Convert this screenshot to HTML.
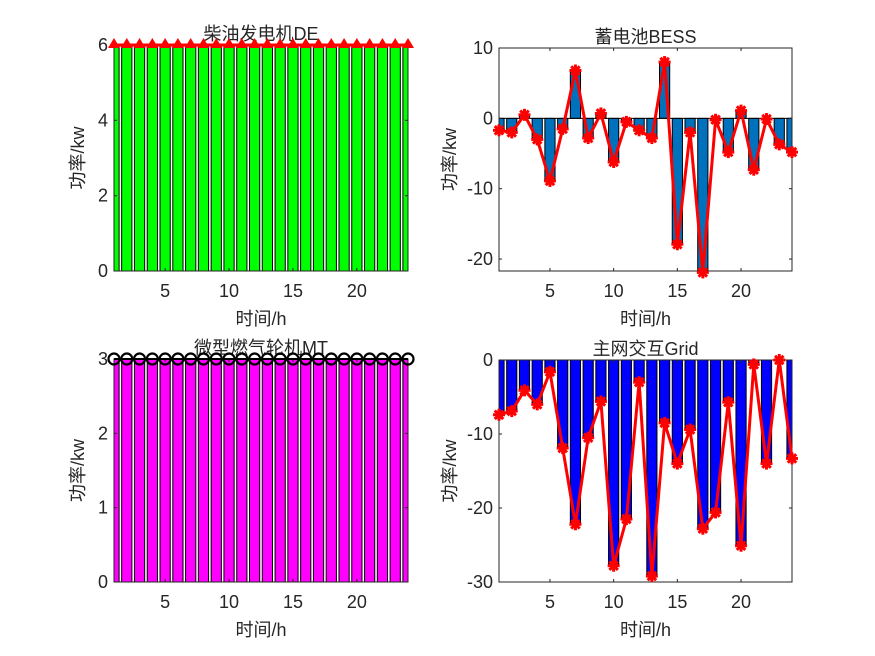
<!DOCTYPE html>
<html><head><meta charset="utf-8"><style>
html,body{margin:0;padding:0;background:#fff;width:875px;height:656px;overflow:hidden}
text{font-family:"Liberation Sans","Noto Sans CJK SC",sans-serif;fill:#262626}
</style></head><body>
<svg id="s" width="875" height="656" xmlns="http://www.w3.org/2000/svg"></svg>
<script>
const S=document.getElementById('s');let h='';
function ax(o){
 const {L,R,T,B,y0,y1,yt,data,bar,title,id,yl}=o;
 const X=v=>L+(v-1)*(R-L)/23, Y=v=>B-(v-y0)*(B-T)/(y1-y0);
 h+=`<clipPath id="${id}"><rect x="${L}" y="${T}" width="${R-L}" height="${B-T}"/></clipPath><g clip-path="url(#${id})">`;
 const z=Y(Math.max(y0,Math.min(y1,0)));
 data.forEach((v,i)=>{const x=X(i+1)-0.4*(R-L)/23,w=0.8*(R-L)/23;const a=Y(v);
  h+=`<rect x="${x}" y="${Math.min(a,z)}" width="${w}" height="${Math.abs(a-z)}" fill="${bar}" stroke="#000" stroke-width="1"/>`;});
 if(y0<0&&y1>0)h+=`<line x1="${L}" x2="${R}" y1="${z}" y2="${z}" stroke="#000"/>`;
 h+='</g>';
 h+=`<rect x="${L}" y="${T}" width="${R-L}" height="${B-T}" fill="none" stroke="#262626" stroke-width="1"/>`;
 [5,10,15,20].forEach(t=>{const x=X(t);h+=`<line x1="${x}" x2="${x}" y1="${B}" y2="${B-3}" stroke="#262626"/><line x1="${x}" x2="${x}" y1="${T}" y2="${T+3}" stroke="#262626"/><text x="${x}" y="${B+26}" font-size="18" text-anchor="middle">${t}</text>`;});
 yt.forEach(t=>{const y=Y(t);h+=`<line x1="${L}" x2="${L+3}" y1="${y}" y2="${y}" stroke="#262626"/><line x1="${R}" x2="${R-3}" y1="${y}" y2="${y}" stroke="#262626"/><text x="${L-6}" y="${y+6}" font-size="18" text-anchor="end">${t}</text>`;});
 h+=`<text x="${(L+R)/2}" y="${T-5}" font-size="18" text-anchor="middle" fill="#000">${title}</text>`;
 h+=`<text x="${(L+R)/2}" y="${B+54}" font-size="18" text-anchor="middle">时间/h</text>`;
 h+=`<text transform="translate(${L-yl},${(T+B)/2}) rotate(-90)" font-size="18" text-anchor="middle">功率/kw</text>`;
 const pts=data.map((v,i)=>X(i+1)+','+Y(v)).join(' ');
 if(o.mk==='star'){
  h+=`<polyline points="${pts}" fill="none" stroke="#f00" stroke-width="3" stroke-linejoin="round"/>`;
  data.forEach((v,i)=>{const x=X(i+1),y=Y(v);for(let k=0;k<4;k++){const a=k*Math.PI/4,dx=6*Math.cos(a),dy=6*Math.sin(a);h+=`<line x1="${x-dx}" y1="${y-dy}" x2="${x+dx}" y2="${y+dy}" stroke="#f00" stroke-width="3"/>`;}h+=`<circle cx="${x}" cy="${y}" r="3.5" fill="#f00"/>`;});
 } else if(o.mk==='tri'){
  h+=`<polyline points="${pts}" fill="none" stroke="#f00" stroke-width="3"/>`;
  data.forEach((v,i)=>{const x=X(i+1),y=Y(v);h+=`<polygon points="${x},${y-7} ${x-6},${y+3} ${x+6},${y+3}" fill="#f00"/>`;});
 } else {
  h+=`<polyline points="${pts}" fill="none" stroke="#000" stroke-width="2"/>`;
  data.forEach((v,i)=>{const x=X(i+1),y=Y(v);h+=`<circle cx="${x}" cy="${y}" r="5.5" fill="none" stroke="#000" stroke-width="2.2"/>`;});
 }
}
ax({id:'a',L:114,R:408,T:45,B:271,yl:30,y0:0,y1:6,yt:[0,2,4,6],data:Array(24).fill(6),bar:'#00ff00',title:'柴油发电机DE',mk:'tri'});
ax({id:'b',L:499,R:792,T:48,B:271,yl:43,y0:-21.7,y1:10,yt:[-20,-10,0,10],data:[-1.7,-2.0,0.5,-3.0,-8.9,-1.5,6.8,-2.8,0.7,-6.2,-0.5,-1.7,-2.8,8.0,-17.9,-2.0,-21.9,-0.2,-4.8,1.1,-7.3,-0.1,-3.7,-4.8],bar:'#0072BD',title:'蓄电池BESS',mk:'star'});
ax({id:'c',L:114,R:408,T:359,B:582,yl:30,y0:0,y1:3,yt:[0,1,2,3],data:Array(24).fill(3),bar:'#ff00ff',title:'微型燃气轮机MT',mk:'circ'});
ax({id:'d',L:499,R:792,T:360,B:582,yl:43,y0:-30,y1:0,yt:[-30,-20,-10,0],data:[-7.4,-6.9,-4.1,-6.0,-1.6,-11.9,-22.2,-10.5,-5.6,-27.8,-21.5,-3.0,-29.2,-8.5,-14.0,-9.4,-22.8,-20.6,-5.7,-25.1,-0.6,-14.0,0,-13.3],bar:'#0000ff',title:'主网交互Grid',mk:'star'});
S.innerHTML=h;
</script>
</body></html>
